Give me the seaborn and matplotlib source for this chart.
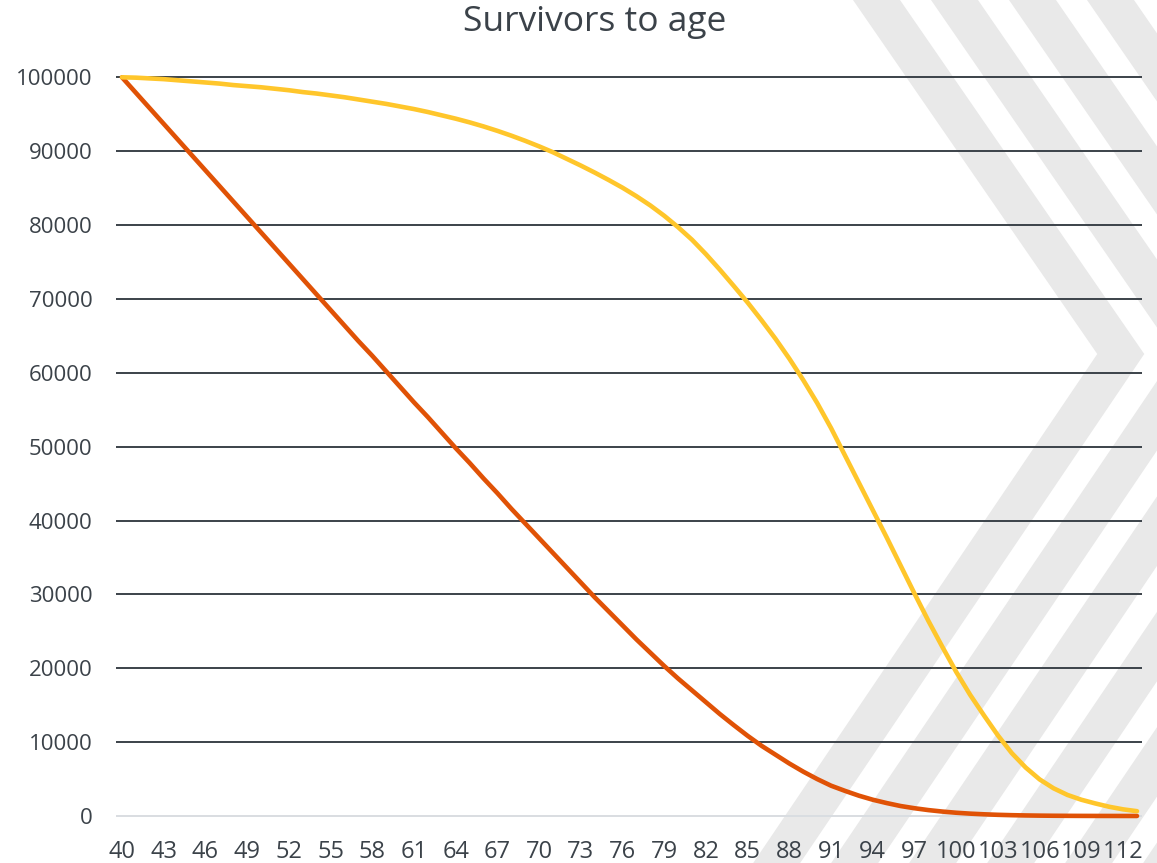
import matplotlib
matplotlib.use('Agg')
import matplotlib.pyplot as plt
from matplotlib.patches import Polygon
import pandas as pd
import seaborn as sns

ages = list(range(40, 114))

survivors_low = [
    100000, 97900, 95800, 93700, 91600, 89500, 87400, 85300, 83200, 81100,
    79000, 76900, 74800, 72700, 70600, 68500, 66400, 64300, 62300, 60200,
    58100, 56000, 54000, 51900, 49800, 47800, 45700, 43700, 41600, 39600,
    37600, 35600, 33600, 31600, 29600, 27700, 25800, 23900, 22100, 20300,
    18600, 17000, 15400, 13800, 12300, 10850, 9500, 8300, 7100, 6000,
    5000, 4100, 3400, 2750, 2200, 1750, 1350, 1050, 800, 600,
    440, 320, 230, 160, 110, 75, 50, 33, 22, 14,
    9, 6, 4, 2,
]

survivors_high = [
    100000, 99950, 99850, 99750, 99600, 99450, 99300, 99150, 98950, 98800,
    98650, 98450, 98250, 98000, 97800, 97550, 97300, 97000, 96700, 96400,
    96050, 95700, 95300, 94850, 94400, 93900, 93350, 92750, 92100, 91400,
    90650, 89850, 88950, 88050, 87100, 86100, 85050, 83900, 82650, 81250,
    79700, 78000, 76050, 73950, 71750, 69500, 67100, 64600, 61900, 59000,
    55900, 52500, 48800, 45100, 41400, 37700, 33900, 30100, 26400, 22900,
    19500, 16400, 13600, 10900, 8500, 6550, 4950, 3750, 2850, 2200,
    1700, 1250, 900, 650,
]

series_names = ['low', 'high']
series_colors = ['#E05206', '#FFC62B']
x_tick_labels = list(range(40, 113, 3))
y_tick_values = list(range(0, 100001, 10000))

W, H = 1157, 863
TEXT = '#3B4249'

df = pd.DataFrame({
    'age': ages * 2,
    'survivors': survivors_low + survivors_high,
    'series': ['low'] * len(ages) + ['high'] * len(ages),
})

sns.set_theme(style='white')
plt.rcParams['font.family'] = ['Open Sans', 'DejaVu Sans']

fig = plt.figure(figsize=(W / 100, H / 100), dpi=100)
fig.patch.set_facecolor('white')


def px_axes(left, top, right, bottom):
    return [left / W, 1 - bottom / H, (right - left) / W, (bottom - top) / H]


# decorative chevron stripes in the background
def add_stripes(fig):
    for k in range(6):
        x0 = 853 + 78 * k
        vy = 354
        vx = x0 + 0.69 * vy
        bx = vx - 0.676 * (H - vy)
        pts = [(x0, 0), (x0 + 47, 0), (vx + 47, vy), (bx + 47, H), (bx, H), (vx, vy)]
        pts = [(x / W, 1 - y / H) for x, y in pts]
        fig.patches.append(Polygon(pts, closed=True, transform=fig.transFigure,
                                   facecolor='#E9E9E9', edgecolor='none', zorder=-5))


add_stripes(fig)

# 0 -> y 816, 100000 -> y 77.3
ppu = (816 - 77.3) / 100000
ax = fig.add_axes(px_axes(116, 77.3 - 1000 * ppu, 1142, 816 + 1000 * ppu))
ax.set_facecolor('none')

for v in y_tick_values:
    ax.axhline(v, color='#D9DDE1' if v == 0 else TEXT, lw=1.4, zorder=1)

sns.lineplot(data=df, x='age', y='survivors', hue='series',
             hue_order=series_names, palette=series_colors,
             linewidth=3.3, legend=False, ax=ax, zorder=3)

ax.set_xlim(40 - 6 / 13.904, 113 + 5 / 13.904)
ax.set_ylim(-1000, 101000)
ax.set_xticks(x_tick_labels)
ax.set_xticklabels([str(t) for t in x_tick_labels])
ax.set_yticks(y_tick_values)
ax.set_yticklabels([str(v) for v in y_tick_values])
ax.tick_params(axis='both', length=0, labelcolor=TEXT)
ax.tick_params(axis='y', pad=17, labelsize=16)
ax.tick_params(axis='x', pad=12, labelsize=17)
ax.set_xlabel('')
ax.set_ylabel('')
for s in ax.spines.values():
    s.set_visible(False)

fig.text(594.5 / W, 1 - 22 / H, 'Survivors to age', ha='center', va='center',
         fontsize=25.5, color=TEXT)

fig.savefig('out.png', dpi=100)
